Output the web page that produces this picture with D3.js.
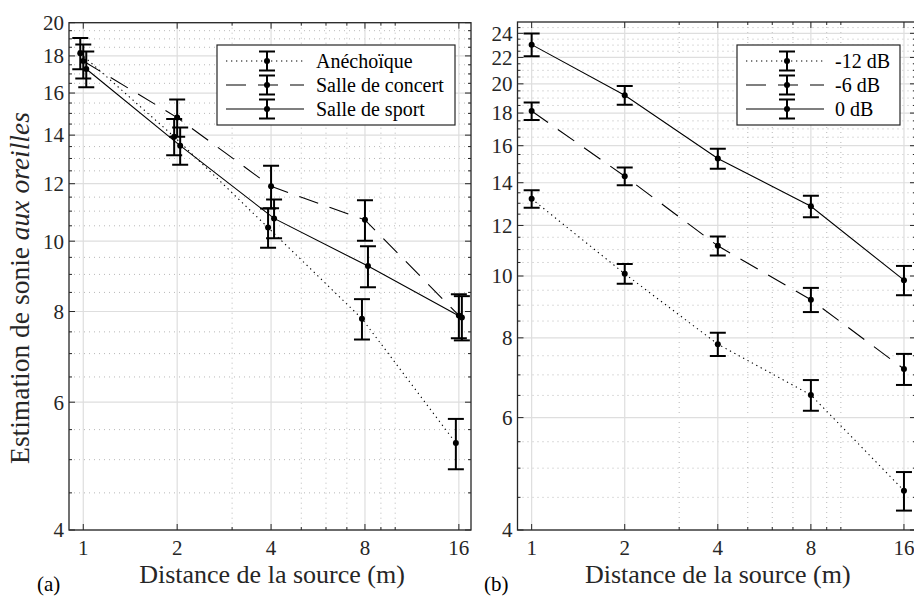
<!DOCTYPE html>
<html>
<head>
<meta charset="utf-8">
<script src="https://cdn.jsdelivr.net/npm/d3@7"></script>
<style>
  body { margin: 0; background: #fff; }
</style>
</head>
<body>
<div id="chart"></div>
<script>

// distances (m)
var distances = [1, 2, 4, 8, 16];

// panel (a) : salles
var roomNames = ["Anéchoïque", "Salle de concert", "Salle de sport"];
var anechoique = [18.15, 13.93, 10.44, 7.82, 5.27];
var anechoiqueErr = [0.9, 0.8, 0.65, 0.5, 0.42];
var concert = [17.71, 14.8, 11.9, 10.7, 7.9];
var concertErr = [0.95, 0.87, 0.8, 0.69, 0.55];
var sport = [17.27, 13.54, 10.75, 9.24, 7.85];
var sportErr = [0.98, 0.8, 0.66, 0.6, 0.55];

// panel (b) : niveaux
var levelNames = ["-12 dB", "-6 dB", "0 dB"];
var moins12 = [13.21, 10.08, 7.82, 6.51, 4.61];
var moins12Err = [0.42, 0.36, 0.33, 0.36, 0.32];
var moins6 = [18.13, 14.33, 11.15, 9.18, 7.15];
var moins6Err = [0.57, 0.46, 0.38, 0.4, 0.4];
var zero = [23.04, 19.19, 15.28, 12.86, 9.85];
var zeroErr = [0.95, 0.65, 0.55, 0.5, 0.52];

// ticks
var xTicks = [1, 2, 4, 8, 16];
var xMinor = [3, 5, 6, 7, 9, 10];
var yTicksA = [4, 6, 8, 10, 12, 14, 16, 18, 20];
var yTicksB = [4, 6, 8, 10, 12, 14, 16, 18, 20, 22, 24];

var width = 914, height = 597;
var axisColor = "#262626";
var dashes = ["1.3,3.7", "20,12", null];
var serif = "'Liberation Serif', 'DejaVu Serif', 'Times New Roman', serif";

var svg = d3.select("#chart").append("svg")
    .attr("width", width)
    .attr("height", height)
    .attr("font-family", serif)
    .style("font-family", serif);

function drawPanel(p) {
    var x = d3.scaleLog().domain([0.9, 17.5]).range([p.left, p.right]);
    var y = d3.scaleLog().domain(p.ydomain).range([p.bottom, p.top]);

    var g = svg.append("g");
    var clipId = "clip" + p.id;
    svg.append("clipPath").attr("id", clipId)
        .append("rect")
        .attr("x", p.left).attr("y", p.top)
        .attr("width", p.right - p.left).attr("height", p.bottom - p.top);

    var yMinor = d3.range(p.ydomain[0] + 0.5, p.ydomain[1], 0.5)
        .filter(function(v) { return v % 2 != 0; });

    // grid
    var grid = g.append("g");
    grid.selectAll(".vminor").data(xMinor).enter().append("line")
        .attr("x1", function(d) { return x(d); }).attr("x2", function(d) { return x(d); })
        .attr("y1", p.top).attr("y2", p.bottom)
        .attr("stroke", "#b8b8b8").attr("stroke-width", 1)
        .attr("stroke-dasharray", "1,4");
    grid.selectAll(".hminor").data(yMinor).enter().append("line")
        .attr("x1", p.left).attr("x2", p.right)
        .attr("y1", function(d) { return y(d); }).attr("y2", function(d) { return y(d); })
        .attr("stroke", "#b8b8b8").attr("stroke-width", 1)
        .attr("stroke-dasharray", "1,4");
    grid.selectAll(".vmajor").data(xTicks).enter().append("line")
        .attr("x1", function(d) { return x(d); }).attr("x2", function(d) { return x(d); })
        .attr("y1", p.top).attr("y2", p.bottom)
        .attr("stroke", "#dedede").attr("stroke-width", 1.2);
    grid.selectAll(".hmajor").data(p.yTicks).enter().append("line")
        .attr("x1", p.left).attr("x2", p.right)
        .attr("y1", function(d) { return y(d); }).attr("y2", function(d) { return y(d); })
        .attr("stroke", "#dedede").attr("stroke-width", 1.2);

    // ticks on all four sides, pointing inward
    var ticks = g.append("g").attr("stroke", axisColor).attr("stroke-width", 1);
    function xt(vals, len) {
        vals.forEach(function(v) {
            ticks.append("line").attr("x1", x(v)).attr("x2", x(v)).attr("y1", p.bottom).attr("y2", p.bottom - len);
            ticks.append("line").attr("x1", x(v)).attr("x2", x(v)).attr("y1", p.top).attr("y2", p.top + len);
        });
    }
    function yt(vals, len) {
        vals.forEach(function(v) {
            ticks.append("line").attr("y1", y(v)).attr("y2", y(v)).attr("x1", p.left).attr("x2", p.left + len);
            ticks.append("line").attr("y1", y(v)).attr("y2", y(v)).attr("x1", p.right).attr("x2", p.right - len);
        });
    }
    xt(xTicks, 6); xt(xMinor, 3);
    yt(p.yTicks, 6); yt(yMinor, 3);

    // frame
    g.append("rect")
        .attr("x", p.left).attr("y", p.top)
        .attr("width", p.right - p.left).attr("height", p.bottom - p.top)
        .attr("fill", "none").attr("stroke", axisColor).attr("stroke-width", 1.3);

    // tick labels
    g.selectAll(".xl").data(xTicks).enter().append("text")
        .attr("x", function(d) { return x(d); })
        .attr("y", p.bottom + 25)
        .attr("text-anchor", "middle")
        .attr("fill", axisColor)
        .style("font-size", "21px")
        .text(function(d) { return d; });
    g.selectAll(".yl").data(p.yTicks).enter().append("text")
        .attr("x", p.left - 5)
        .attr("y", function(d) { return y(d); })
        .attr("dy", "0.35em")
        .attr("text-anchor", "end")
        .attr("fill", axisColor)
        .style("font-size", "21px")
        .text(function(d) { return d; });

    // x label
    g.append("text")
        .attr("x", (p.left + Math.min(p.right, width)) / 2 + 2)
        .attr("y", 583)
        .attr("text-anchor", "middle")
        .attr("fill", axisColor)
        .style("font-size", "26px")
        .text("Distance de la source (m)");

    // panel letter
    g.append("text")
        .attr("x", p.letterX).attr("y", 591)
        .style("font-size", "21px")
        .text(p.letter);

    // series
    var plot = g.append("g").attr("clip-path", "url(#" + clipId + ")");
    p.series.forEach(function(s, i) {
        var pts = distances.map(function(d, j) {
            return { x: x(d) + p.jitter[i], v: s.values[j], e: s.errors[j] };
        });
        var line = d3.line()
            .x(function(d) { return d.x; })
            .y(function(d) { return y(d.v); });
        plot.append("path")
            .attr("d", line(pts))
            .attr("fill", "none")
            .attr("stroke", "#000")
            .attr("stroke-width", 1.1)
            .attr("stroke-dasharray", dashes[i]);

        var eb = plot.append("g").attr("stroke", "#000").attr("stroke-width", 2);
        pts.forEach(function(d) {
            var y1 = y(d.v + d.e), y2 = y(d.v - d.e);
            eb.append("line").attr("x1", d.x).attr("x2", d.x).attr("y1", y1).attr("y2", y2);
            eb.append("line").attr("x1", d.x - 8).attr("x2", d.x + 8).attr("y1", y1).attr("y2", y1);
            eb.append("line").attr("x1", d.x - 8).attr("x2", d.x + 8).attr("y1", y2).attr("y2", y2);
        });
        plot.selectAll(null).data(pts).enter().append("circle")
            .attr("cx", function(d) { return d.x; })
            .attr("cy", function(d) { return y(d.v); })
            .attr("r", 3)
            .attr("fill", "#000");
    });

    // legend
    var lg = g.append("g").attr("transform", "translate(" + p.legend.x + "," + p.legend.y + ")");
    lg.append("rect")
        .attr("width", p.legend.w).attr("height", 80)
        .attr("fill", "#fff").attr("stroke", axisColor).attr("stroke-width", 1.2);
    p.series.forEach(function(s, i) {
        var ry = 16 + i * 24;
        var row = lg.append("g").attr("transform", "translate(0," + ry + ")");
        row.append("line")
            .attr("x1", 9).attr("x2", 87).attr("y1", 0).attr("y2", 0)
            .attr("stroke", "#000").attr("stroke-width", 1.1)
            .attr("stroke-dasharray", dashes[i]);
        var mx = 50;
        row.append("line").attr("x1", mx).attr("x2", mx).attr("y1", -9.5).attr("y2", 9.5)
            .attr("stroke", "#000").attr("stroke-width", 2);
        row.append("line").attr("x1", mx - 8).attr("x2", mx + 8).attr("y1", -9.5).attr("y2", -9.5)
            .attr("stroke", "#000").attr("stroke-width", 2);
        row.append("line").attr("x1", mx - 8).attr("x2", mx + 8).attr("y1", 9.5).attr("y2", 9.5)
            .attr("stroke", "#000").attr("stroke-width", 2);
        row.append("circle").attr("cx", mx).attr("cy", 0).attr("r", 3).attr("fill", "#000");
        row.append("text")
            .attr("x", p.legend.tx).attr("y", 0).attr("dy", "0.35em")
            .style("font-size", "20px")
            .text(s.name);
    });
}

drawPanel({
    id: "a", letter: "(a)", letterX: 37,
    left: 69, right: 471, top: 22.7, bottom: 530,
    ydomain: [4, 20], yTicks: yTicksA,
    jitter: [-3, 0, 3],
    legend: { x: 217, y: 45, w: 238, tx: 99 },
    series: [
        { name: roomNames[0], values: anechoique, errors: anechoiqueErr },
        { name: roomNames[1], values: concert, errors: concertErr },
        { name: roomNames[2], values: sport, errors: sportErr }
    ]
});

drawPanel({
    id: "b", letter: "(b)", letterX: 484,
    left: 517.5, right: 916, top: 22, bottom: 530,
    ydomain: [4, 25], yTicks: yTicksB,
    jitter: [0, 0, 0],
    legend: { x: 737, y: 45, w: 163, tx: 98 },
    series: [
        { name: levelNames[0], values: moins12, errors: moins12Err },
        { name: levelNames[1], values: moins6, errors: moins6Err },
        { name: levelNames[2], values: zero, errors: zeroErr }
    ]
});

// y label, panel (a)
var ylab = svg.append("text")
    .attr("transform", "translate(29," + 288 + ") rotate(-90)")
    .attr("text-anchor", "middle")
    .attr("fill", axisColor)
    .style("font-size", "27.5px");
ylab.append("tspan").text("Estimation de sonie ");
ylab.append("tspan").style("font-style", "italic").text("aux oreilles");

</script>
</body>
</html>
